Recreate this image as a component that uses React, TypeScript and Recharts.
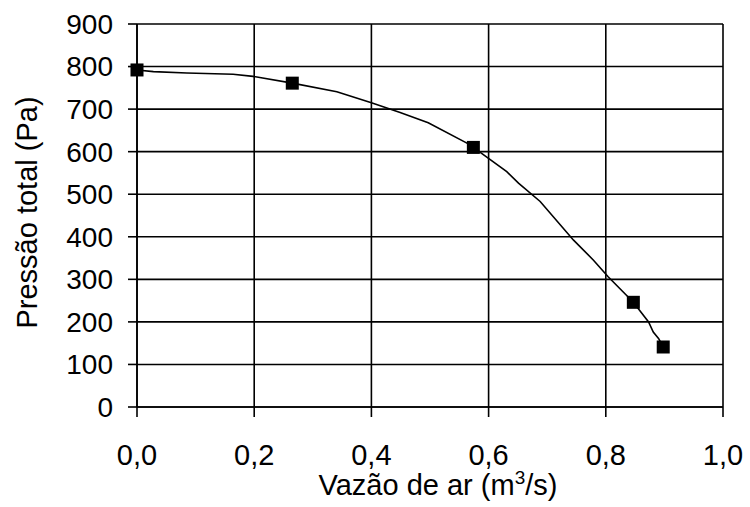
import React from 'react';
import { ComposedChart, Line, Scatter, XAxis, YAxis, CartesianGrid } from 'recharts';

const pointX = [0, 0.265, 0.574, 0.847, 0.898];
const pointY = [792, 761, 610, 246, 141];

const curveX = [0, 0.028, 0.085, 0.164, 0.198, 0.265, 0.341, 0.4, 0.449, 0.497, 0.563, 0.574, 0.631, 0.651, 0.688, 0.745, 0.779, 0.804, 0.847, 0.873, 0.881, 0.89, 0.898];
const curveY = [792, 788, 785, 782, 777, 761, 741, 715, 692, 668, 620, 610, 553, 526, 483, 392, 345, 306, 246, 200, 176, 161, 141];

const xTicks = [0, 0.2, 0.4, 0.6, 0.8, 1.0];
const yTicks = [0, 100, 200, 300, 400, 500, 600, 700, 800, 900];

const xTitle = 'Vazão de ar (m';
const xTitleSup = '3';
const xTitleEnd = '/s)';
const yTitle = 'Pressão total (Pa)';

const points = pointX.map((x, i) => ({ x, y: pointY[i] }));
const curve = curveX.map((x, i) => ({ x, y: curveY[i] }));

const FONT = '"Liberation Sans", Arial, sans-serif';

const Square = (props: any) => {
  const { cx, cy } = props;
  if (cx == null || cy == null) return null;
  return <rect x={cx - 6.5} y={cy - 6.5} width={13} height={13} fill="#000" />;
};

const XTitle = (props: any) => {
  const vb = props.viewBox || {};
  const cx = vb.x + vb.width / 2 + 8;
  const y = vb.y + 88;
  return (
    <text x={cx} y={y} textAnchor="middle" fontFamily={FONT} fontSize={29} fill="#000">
      {xTitle}
      <tspan dy={-11} fontSize={19}>{xTitleSup}</tspan>
      <tspan dy={11}>{xTitleEnd}</tspan>
    </text>
  );
};

const YTitle = (props: any) => {
  const vb = props.viewBox || {};
  const x = 37;
  const cy = vb.y + vb.height / 2 - 3;
  return (
    <text x={x} y={cy} textAnchor="middle" transform={`rotate(-90, ${x}, ${cy})`} fontFamily={FONT} fontSize={29} fill="#000">
      {yTitle}
    </text>
  );
};

export default function App() {
  return (
    <div style={{ position: 'absolute', left: 0, top: 0, background: '#fff' }}>
      <ComposedChart width={750} height={507} margin={{ top: 24, right: 27, bottom: 0, left: 0 }}>
        <CartesianGrid stroke="#000" strokeWidth={1.6} horizontal vertical />
        <XAxis
          dataKey="x"
          type="number"
          domain={[0, 1]}
          ticks={xTicks}
          height={100}
          tickSize={10}
          tickMargin={27}
          tickFormatter={(v: number) => v.toFixed(1).replace('.', ',')}
          tick={{ fill: '#000', fontSize: 29, fontFamily: FONT }}
          axisLine={{ stroke: '#000', strokeWidth: 1.6 }}
          tickLine={{ stroke: '#000', strokeWidth: 1.6 }}
          label={<XTitle />}
        />
        <YAxis
          dataKey="y"
          type="number"
          domain={[0, 900]}
          ticks={yTicks}
          width={137}
          tickSize={9}
          tickMargin={15}
          tick={{ fill: '#000', fontSize: 28, fontFamily: FONT }}
          axisLine={{ stroke: '#000', strokeWidth: 1.6 }}
          tickLine={{ stroke: '#000', strokeWidth: 1.6 }}
          label={<YTitle />}
        />
        <Line data={curve} dataKey="y" type="linear" stroke="#000" strokeWidth={1.6} dot={false} activeDot={false} isAnimationActive={false} />
        <Scatter data={points} dataKey="y" fill="#000" shape={<Square />} isAnimationActive={false} />
      </ComposedChart>
    </div>
  );
}
